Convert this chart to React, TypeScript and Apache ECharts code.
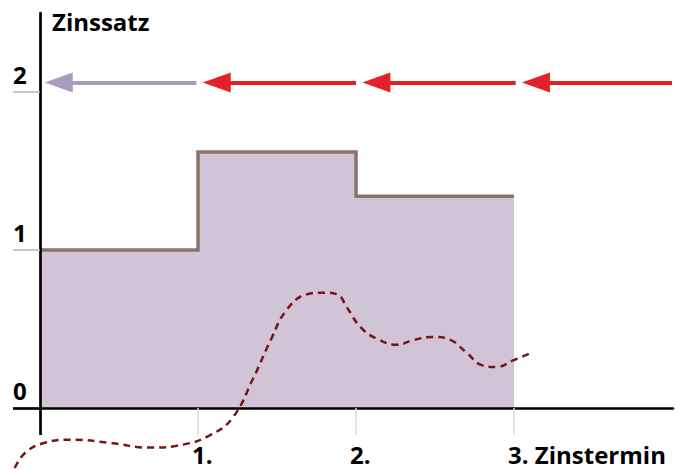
import React, { useEffect, useRef } from "react";
import * as echarts from "echarts";

// ---- data ----
const stepX = [0, 1, 2, 3];
const stepY = [1.0, 1.62, 1.34, 1.34];

const curveX = [-0.16, -0.09, 0.03, 0.19, 0.44, 0.69, 0.91, 1.08, 1.22, 1.35, 1.46, 1.56, 1.69, 1.79, 1.88, 1.94, 2.03, 2.13, 2.26, 2.36, 2.49, 2.6, 2.7, 2.8, 2.89, 2.99, 3.11];
const curveY = [-0.38, -0.28, -0.22, -0.2, -0.22, -0.25, -0.23, -0.17, -0.06, 0.19, 0.43, 0.62, 0.72, 0.73, 0.72, 0.64, 0.51, 0.44, 0.4, 0.43, 0.45, 0.43, 0.35, 0.27, 0.26, 0.3, 0.35];

const yTickValues = [0, 1, 2];
const yTickLabels = ["0", "1", "2"];
const yTickMarks = [1, 2];
const xTickValues = [1, 2, 3];
const xTickLabels = ["1.", "2.", "3. Zinstermin"];
const originTick = [0];
const yAxisTitle = "Zinssatz";

const arrowLevel = 2.06;
const arrowTails = [0.99, 2.0, 3.01, 4.0];
const arrowTips = [0.03, 1.03, 2.04, 3.05];

// ---- layout / style ----
const X_MIN = 0;
const X_MAX = 4.006;
const Y_MIN = 0;
const Y_MAX = 2.5;
// full-canvas overlay grid (same scale) for the free-hand curve
const X_MIN_FULL = -0.171;
const Y_MIN_FULL = -0.392;
const PX_PER_UNIT = 158;
const HEAD_LEN = 28;
const HEAD_W = 20;
const FONT = "'Open Sans', 'Noto Sans', sans-serif";
const PAST_COLOR = "#a99bbb";
const FUTURE_COLOR = "#e4202a";
const AXIS_W = 2.7;
const EXT = 27;
const FS = 24;

export default function App() {
  const ref = useRef<HTMLDivElement>(null);

  useEffect(() => {
    if (!ref.current) return;
    const chart = echarts.init(ref.current, null, { renderer: "svg" });

    const headShift = HEAD_LEN / 2 / PX_PER_UNIT;
    const shaftData = arrowTails.map((tail, i) => [
      {
        coord: [tail, arrowLevel],
        lineStyle: { color: i === 0 ? PAST_COLOR : FUTURE_COLOR, width: 4, type: "solid" },
      },
      { coord: [arrowTips[i] + headShift, arrowLevel] },
    ]);
    const headData = arrowTips.map((tip, i) => ({
      value: [tip + headShift, arrowLevel],
      itemStyle: { color: i === 0 ? PAST_COLOR : FUTURE_COLOR, opacity: 1 },
    }));

    const labelStyle = {
      fontFamily: FONT,
      fontWeight: "bold" as const,
      fontSize: FS,
      lineHeight: FS,
      color: "#000",
    };

    const hidden = { show: false };

    chart.setOption({
      animation: false,
      grid: [
        { left: 40, top: 13, width: 633, height: 395, outerBoundsMode: "none", containLabel: false },
        { left: 13, top: 13, width: 660, height: 457, outerBoundsMode: "none", containLabel: false },
      ],
      xAxis: [
        {
          type: "value",
          gridIndex: 0,
          min: X_MIN,
          max: X_MAX,
          position: "bottom",
          z: 5,
          axisLine: { onZero: false, lineStyle: { color: "#000", width: AXIS_W } },
          axisTick: {
            show: true,
            customValues: xTickValues,
            length: EXT,
            lineStyle: { color: "#dcdcdc", width: 1.5 },
          },
          axisLabel: {
            ...labelStyle,
            customValues: xTickValues,
            formatter: (v: number) => xTickLabels[xTickValues.indexOf(v)] ?? "",
            align: "left",
            verticalAlign: "middle",
            padding: [0, 0, 0, -6],
            margin: 46,
          },
          splitLine: hidden,
        },
        {
          // extension of the y axis below the origin
          type: "value",
          gridIndex: 0,
          min: X_MIN,
          max: X_MAX,
          position: "bottom",
          z: 6,
          axisLine: { show: false, onZero: false },
          axisTick: { show: true, customValues: originTick, length: EXT, lineStyle: { color: "#000", width: AXIS_W } },
          axisLabel: hidden,
          splitLine: hidden,
        },
        {
          type: "value",
          gridIndex: 1,
          min: X_MIN_FULL,
          max: X_MAX,
          show: false,
        },
      ],
      yAxis: [
        {
          type: "value",
          gridIndex: 0,
          min: Y_MIN,
          max: Y_MAX,
          position: "left",
          z: 5,
          name: yAxisTitle,
          nameLocation: "end",
          nameGap: -8.5,
          nameTextStyle: {
            ...labelStyle,
            align: "left",
            verticalAlign: "middle",
            padding: [0, 0, 0, 12],
          },
          axisLine: { onZero: false, lineStyle: { color: "#000", width: AXIS_W } },
          axisTick: {
            show: true,
            customValues: yTickMarks,
            length: EXT,
            lineStyle: { color: "#b4b4b4", width: 1.5 },
          },
          axisLabel: {
            ...labelStyle,
            customValues: yTickValues,
            formatter: (v: number) => yTickLabels[yTickValues.indexOf(v)] ?? "",
            align: "left",
            verticalAlign: "bottom",
            padding: [0, 0, 6, 0],
            margin: EXT,
          },
          splitLine: hidden,
        },
        {
          // extension of the x axis left of the origin
          type: "value",
          gridIndex: 0,
          min: Y_MIN,
          max: Y_MAX,
          position: "left",
          z: 6,
          axisLine: { show: false, onZero: false },
          axisTick: { show: true, customValues: originTick, length: EXT, lineStyle: { color: "#000", width: AXIS_W } },
          axisLabel: hidden,
          splitLine: hidden,
        },
        {
          type: "value",
          gridIndex: 1,
          min: Y_MIN_FULL,
          max: Y_MAX,
          show: false,
        },
      ],
      series: [
        {
          type: "line",
          xAxisIndex: 0,
          yAxisIndex: 0,
          data: stepX.map((x, i) => [x, stepY[i]]),
          step: "end",
          symbol: "none",
          z: 2,
          lineStyle: { color: "#8b7368", width: 3.5, join: "miter" },
          areaStyle: { color: "#d0c4d6", opacity: 1 },
          silent: true,
        },
        {
          type: "line",
          xAxisIndex: 2,
          yAxisIndex: 2,
          data: curveX.map((x, i) => [x, curveY[i]]),
          smooth: 0.45,
          symbol: "none",
          clip: false,
          z: 3,
          lineStyle: { color: "#7b1419", width: 2.5, type: [7, 5] },
          silent: true,
        },
        {
          type: "line",
          xAxisIndex: 0,
          yAxisIndex: 0,
          data: [],
          symbol: "none",
          silent: true,
          markLine: {
            silent: true,
            animation: false,
            symbol: ["none", "none"],
            label: { show: false },
            emphasis: { disabled: true },
            data: shaftData,
          },
        },
        {
          type: "scatter",
          xAxisIndex: 0,
          yAxisIndex: 0,
          data: headData,
          symbol: "triangle",
          symbolRotate: 90,
          symbolSize: [HEAD_W, HEAD_LEN],
          silent: true,
          z: 4,
        },
      ],
    });

    return () => chart.dispose();
  }, []);

  return (
    <div
      ref={ref}
      style={{ position: "fixed", left: 0, top: 0, width: 688, height: 470, background: "#fff" }}
    />
  );
}
